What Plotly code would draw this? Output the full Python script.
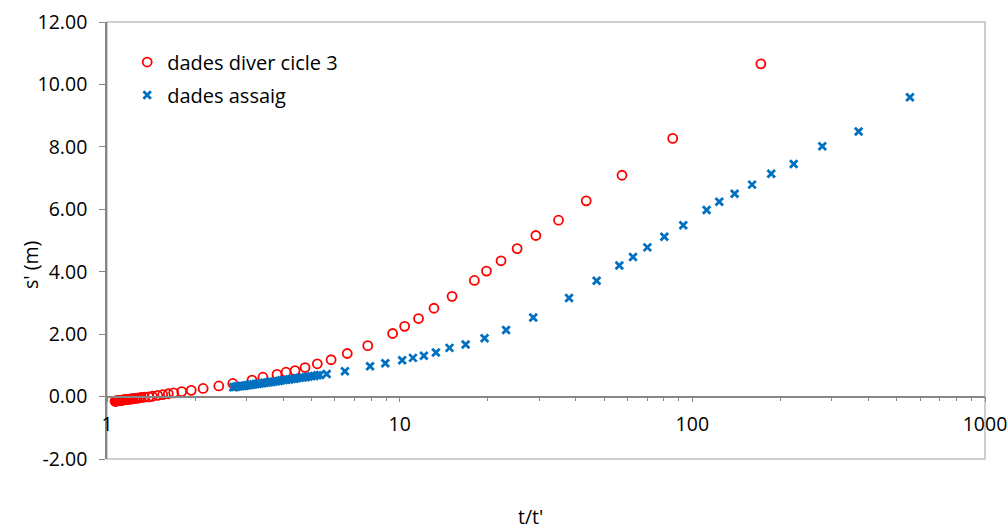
import plotly.graph_objects as go

# Recovery data, field diver (cycle 3): t/t' vs residual drawdown s' (m)
diver_tt = [1.065, 1.07, 1.075, 1.08, 1.085, 1.09, 1.095, 1.10, 1.11, 1.12,
            1.13, 1.14, 1.15, 1.16, 1.17, 1.185, 1.20, 1.215, 1.23, 1.25,
            1.27, 1.29, 1.31, 1.34, 1.39, 1.43, 1.49, 1.55, 1.62, 1.69,
            1.80, 1.94, 2.13, 2.41, 2.69, 3.13, 3.41, 3.81, 4.09, 4.39,
            4.75, 5.23, 5.83, 6.62, 7.78, 9.46, 10.4, 11.6, 13.1, 15.1,
            18.0, 19.8, 22.2, 25.2, 29.2, 34.9, 43.4, 57.5, 85.7, 171.5]
diver_s = [-0.15, -0.15, -0.14, -0.14, -0.14, -0.13, -0.13, -0.13, -0.12, -0.12,
           -0.11, -0.11, -0.10, -0.10, -0.09, -0.09, -0.08, -0.07, -0.07, -0.06,
           -0.05, -0.04, -0.03, -0.02, -0.01, 0.01, 0.04, 0.06, 0.09, 0.12,
           0.16, 0.20, 0.26, 0.34, 0.42, 0.53, 0.62, 0.71, 0.78, 0.83,
           0.93, 1.05, 1.18, 1.38, 1.63, 2.02, 2.25, 2.50, 2.83, 3.21,
           3.72, 4.02, 4.35, 4.74, 5.16, 5.65, 6.27, 7.09, 8.27, 10.66]

# Test data (assaig)
assaig_tt = [2.70, 2.74, 2.78, 2.82, 2.87, 2.91, 2.96, 3.01, 3.06, 3.11,
             3.16, 3.22, 3.27, 3.33, 3.39, 3.45, 3.52, 3.58, 3.65, 3.72,
             3.79, 3.87, 3.94, 4.02, 4.10, 4.19, 4.28, 4.37, 4.46, 4.56,
             4.66, 4.77, 4.88, 4.99, 5.11, 5.23, 5.34, 5.63, 6.50, 7.92,
             8.93, 10.2, 11.1, 12.1, 13.3, 14.8, 16.8, 19.5, 23.1, 28.6,
             37.9, 47.1, 56.3, 62.7, 70.2, 80.2, 93.1, 111.9, 123.6, 139.5,
             160.0, 186.0, 222.0, 278.0, 370.0, 554.0]
assaig_s = [0.30, 0.31, 0.32, 0.33, 0.34, 0.34, 0.35, 0.36, 0.37, 0.38,
            0.39, 0.40, 0.41, 0.42, 0.43, 0.44, 0.45, 0.46, 0.47, 0.48,
            0.49, 0.50, 0.52, 0.53, 0.54, 0.55, 0.56, 0.57, 0.59, 0.60,
            0.61, 0.62, 0.64, 0.65, 0.66, 0.68, 0.69, 0.72, 0.81, 0.97,
            1.07, 1.16, 1.24, 1.31, 1.41, 1.56, 1.67, 1.87, 2.13, 2.53,
            3.16, 3.71, 4.20, 4.47, 4.78, 5.12, 5.49, 5.98, 6.24, 6.50,
            6.79, 7.14, 7.45, 8.02, 8.49, 9.59]

x_tickvals = [1, 10, 100, 1000]
x_ticktext = ["1", "10", "100", "1000"]
y_tickvals = [-2, 0, 2, 4, 6, 8, 10, 12]
y_ticktext = ["-2.00", "0.00", "2.00", "4.00", "6.00", "8.00", "10.00", "12.00"]

FONT = "Open Sans"
AXIS_GREY = "#868686"
TICK_SIZE = 19.5

fig = go.Figure()
fig.add_trace(go.Scatter(
    x=diver_tt, y=diver_s, mode="markers", name="dades diver cicle 3",
    legendgroup="diver",
    marker=dict(symbol="circle-open", size=9, color="#FF0000",
                line=dict(width=1.8, color="#FF0000")),
))
fig.add_trace(go.Scatter(
    x=assaig_tt, y=assaig_s, mode="markers", name="dades assaig",
    legendgroup="assaig",
    marker=dict(symbol="x-thin", size=7.5, color="#0070C0",
                line=dict(width=2.8, color="#0070C0")),
))

fig.update_layout(
    width=1008, height=529,
    margin=dict(l=107, r=23, t=22, b=70, autoexpand=False),
    paper_bgcolor="white", plot_bgcolor="white",
    font=dict(family=FONT, size=TICK_SIZE, color="#000000"),
    showlegend=True,
    legend=dict(x=0.023, y=0.953, xanchor="left", yanchor="top",
                bgcolor="rgba(0,0,0,0)", font=dict(size=20),
                itemwidth=30, traceorder="grouped", tracegroupgap=4),
    xaxis=dict(
        type="log", range=[0, 3], automargin=False,
        anchor="free", position=1 / 7,
        tickvals=x_tickvals, ticktext=x_ticktext,
        ticks="outside", ticklen=5, tickwidth=1.3, tickcolor=AXIS_GREY,
        ticklabelstandoff=5,
        minor=dict(ticks="outside", ticklen=4, tickwidth=1.3,
                   tickcolor=AXIS_GREY, dtick="D1", showgrid=False),
        showline=True, linecolor=AXIS_GREY, linewidth=1.6,
        showgrid=False, zeroline=False,
        tickfont=dict(size=TICK_SIZE),
    ),
    yaxis=dict(
        range=[-2, 12], tickvals=y_tickvals, ticktext=y_ticktext,
        automargin=False,
        ticks="outside", ticklen=6, tickwidth=1.3, tickcolor=AXIS_GREY,
        ticklabelstandoff=8,
        showline=True, linecolor=AXIS_GREY, linewidth=1.6,
        showgrid=False, zeroline=False,
        tickfont=dict(size=TICK_SIZE),
    ),
    shapes=[dict(type="rect", xref="paper", yref="paper",
                 x0=0, x1=1, y0=0, y1=1,
                 line=dict(color="#BFBFBF", width=1.5), layer="below")],
    annotations=[
        dict(text="t/t'", xref="paper", yref="paper", x=(530 - 107) / 878,
             y=-57 / 437, xanchor="center", yanchor="middle",
             showarrow=False, font=dict(size=TICK_SIZE)),
        dict(text="s' (m)", xref="paper", yref="paper", x=-77 / 878,
             y=(459 - 265) / 437, xanchor="center", yanchor="middle",
             textangle=-90, showarrow=False, font=dict(size=TICK_SIZE)),
    ],
)

fig.write_html("out.html")
